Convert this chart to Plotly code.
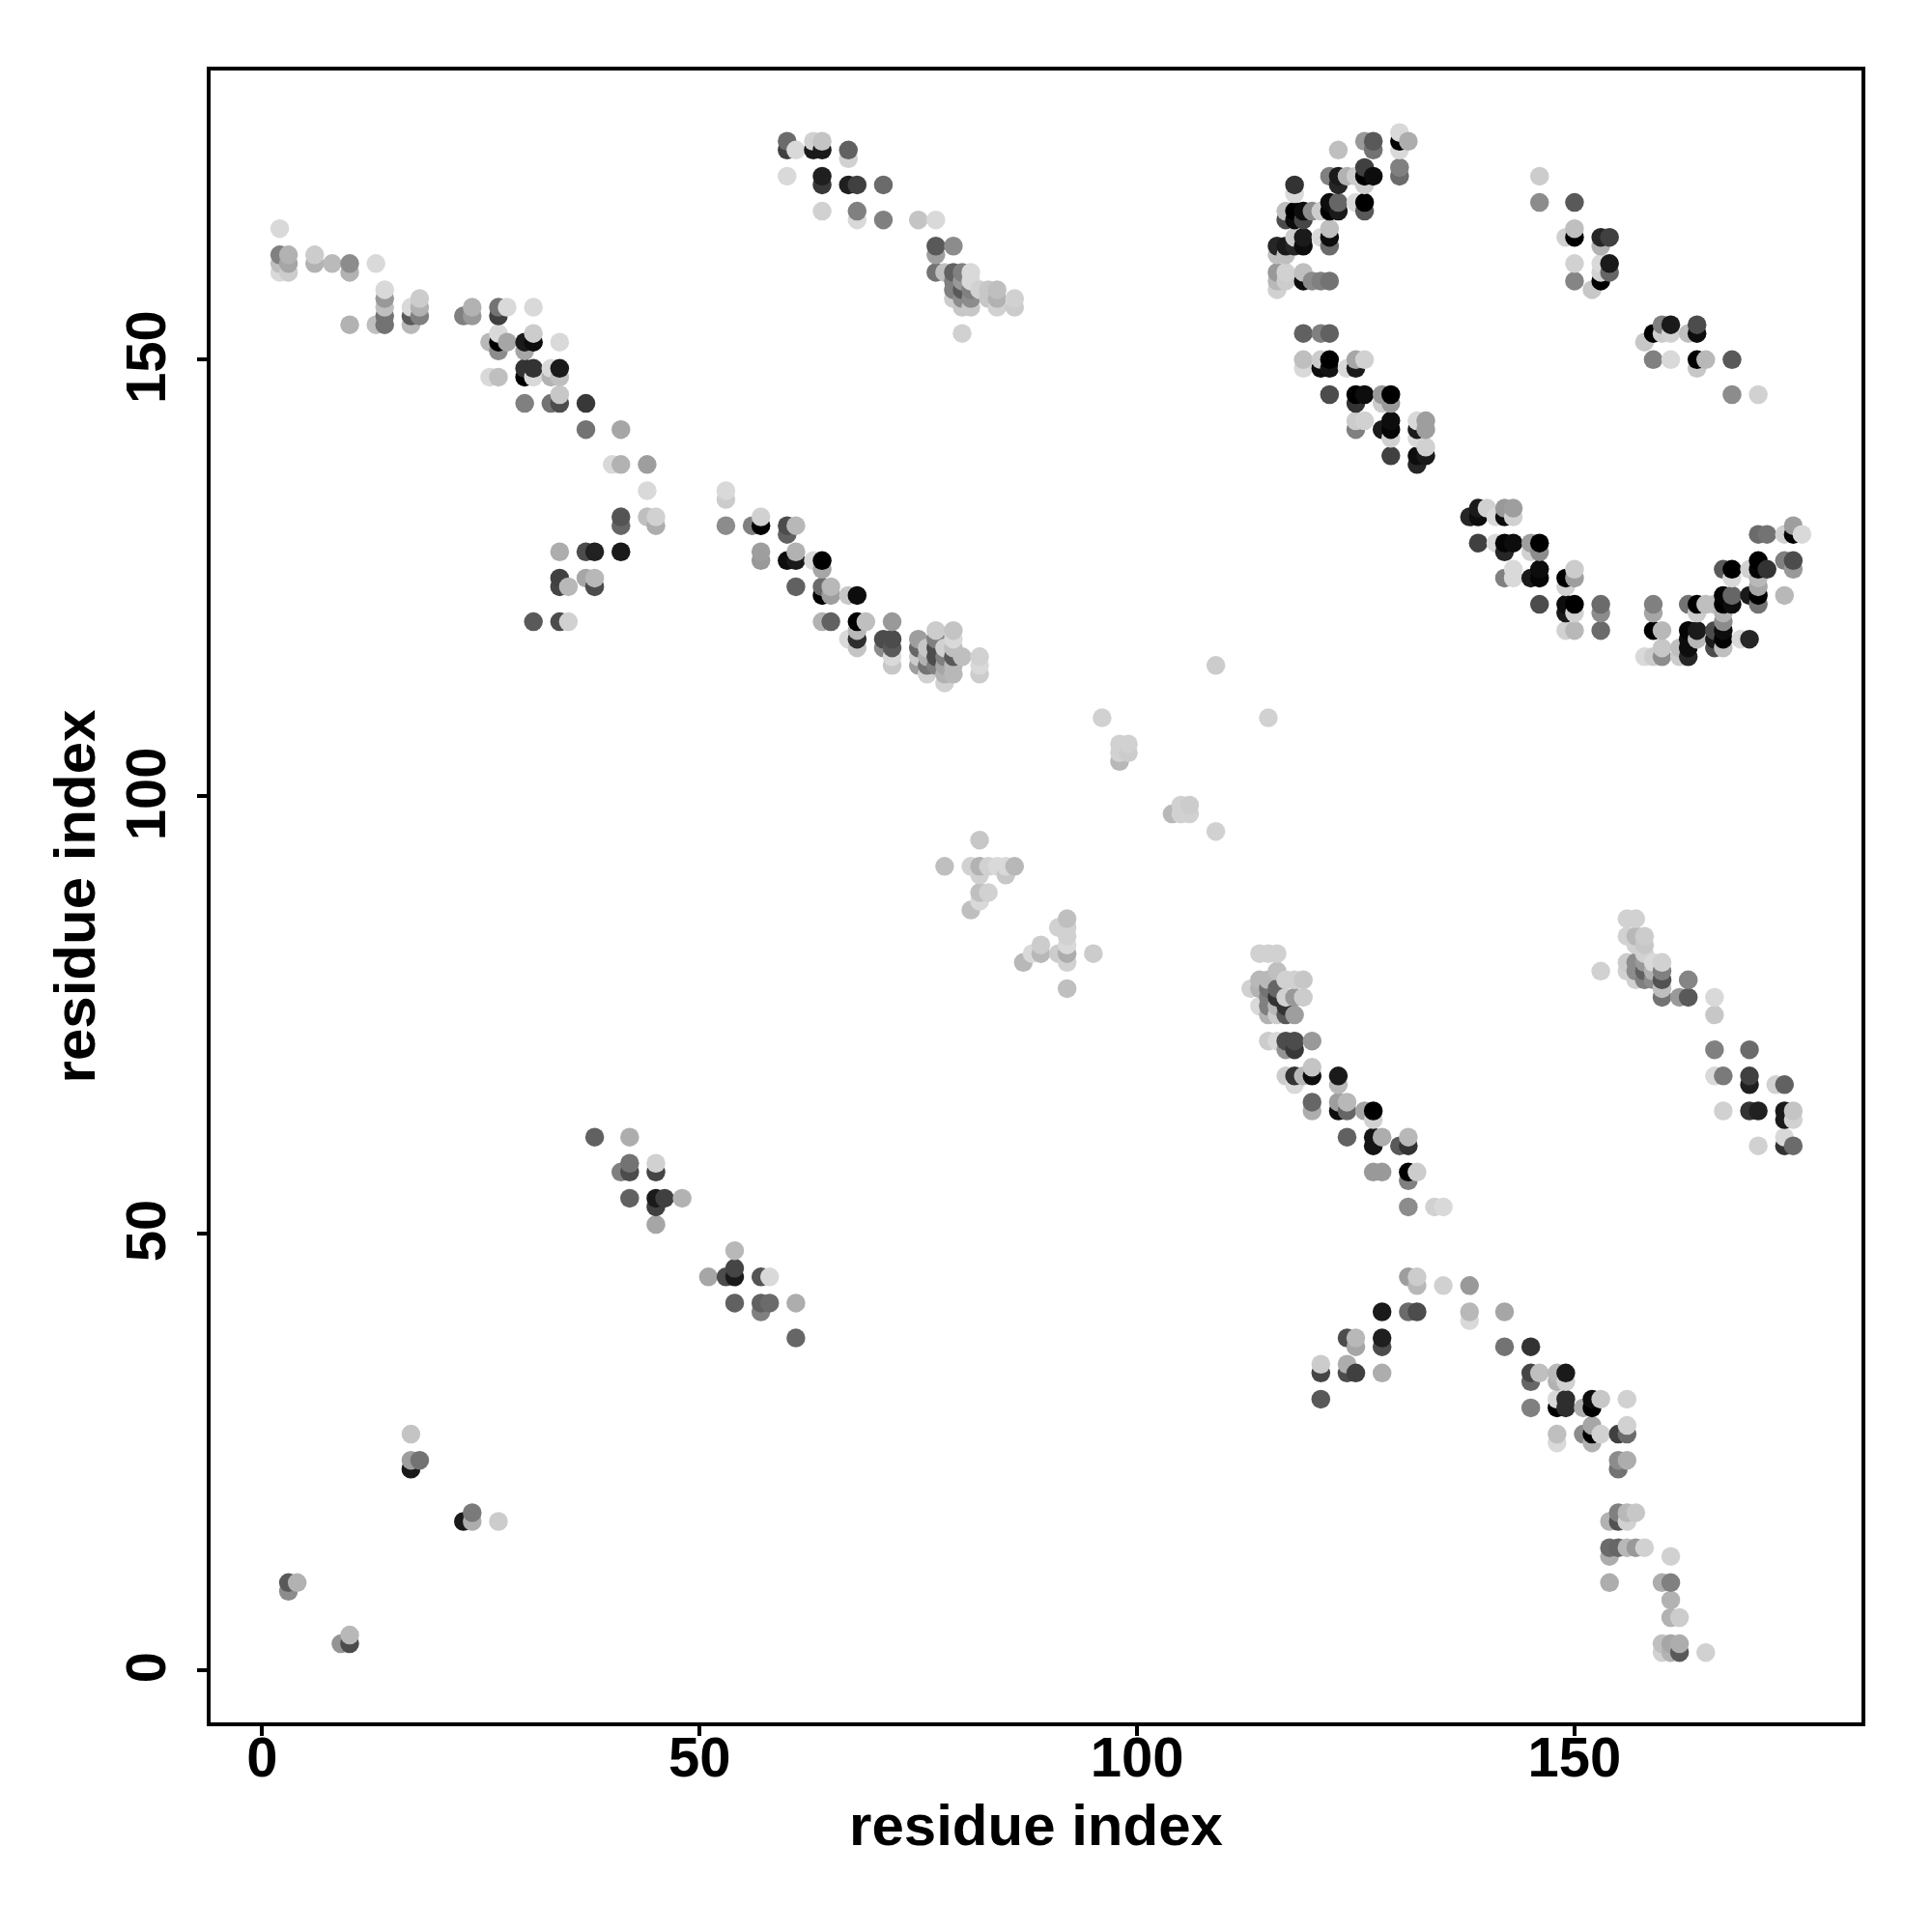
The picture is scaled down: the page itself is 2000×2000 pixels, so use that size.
import plotly.graph_objects as go

# (residue on x, residue on y, grey shade 0=black .. 1=white), read by cluster
nterm_band = [(2,165,.85),(2,162,.5),(3,162,.7),(2,161,.75),(3,161,.65),(2,160,.85),(3,160,.8),(6,162,.8),(6,161,.7),(8,161,.73),(10,161,.55),(10,160,.7),(13,161,.85),
 (14,158,.85),(14,157,.6),(14,156,.75),(14,155,.45),(14,154,.45),(13,154,.75),(10,154,.7),(17,155,.35),(17,154,.72),(17,156,.85),(18,157,.8),(18,156,.7),(18,155,.5),
 (23,155,.5),(24,155,.6),(24,156,.7),(27,156,.45),(28,156,.85),(27,155,.25),(31,156,.85),(27,153,.85),(26,152,.72),(27,152,0),(28,152,.65),(27,151,.55),
 (30,152,.1),(31,152,.05),(31,153,.8),(30,151,.65),(34,152,.85),(30,149,.2),(31,149,.2),(30,148,0),(31,148,.85),(33,149,.85),(34,149,.1),(33,148,.7),(34,148,.75),(26,148,.85),(27,148,.75),
 (30,145,.5),(33,145,.45),(34,145,.3),(34,146,.78),(37,145,.22),(37,142,.45),(41,142,.65),(40,138,.85),(41,138,.7),(44,138,.62),(44,135,.85),(44,132,.75),(45,132,.82),(45,131,.68),
 (41,132,.33),(41,131,.4),(34,128,.68),(37,128,.3),(38,128,.13),(41,128,.1),(34,125,.25),(34,124,.27),(35,124,.72),(37,125,.65),(38,125,.72),(38,124,.3),(31,120,.35),(34,120,.3),(35,120,.82)]

mid_band = [(53,135,.85),(53,134,.8),(53,131,.55),(56,131,.5),(57,131,0),(57,132,.82),(57,128,.62),(57,127,.6),(60,131,.3),(60,130,.38),(61,131,.72),
 (60,127,.05),(61,127,.1),(61,128,.7),(63,127,.85),(64,127,0),(64,126,.65),(61,124,.38),(64,124,.42),(65,124,.72),(64,123,0),(65,123,.62),(67,123,.78),(68,123,.05),
 (64,120,.7),(65,120,.38),(68,120,0),(69,120,.75),(68,119,.72),(67,118,.85),(68,118,.18),(68,117,.77),(72,120,.6),(71,118,.3),(72,118,.3),(71,117,.55),(72,117,.35),(72,116,.85),(72,115,.78),
 (75,118,.62),(75,117,.4),(75,116,.8),(75,115,.62),(76,117,.78),(76,116,.7),(76,115,.45),(76,114,.82),(77,119,.8),(77,118,.5),(77,117,.3),(77,116,.3),(77,115,.5),
 (78,117,.82),(78,116,.5),(78,115,.65),(78,114,.7),(78,113,.82),(79,119,.77),(79,118,.85),(79,117,.75),(79,116,.35),(79,115,.72),(79,114,.72),(80,116,.75),(82,116,.82),(82,115,.85),(82,114,.8)]

top_mid = [(60,175,.42),(60,174,.25),(61,174,.85),(63,175,.82),(64,175,.77),(63,174,.1),(64,174,.1),(67,174,.38),(67,173,.82),(60,171,.85),(64,171,.12),(64,170,.22),(67,170,.12),(68,170,.25),(71,170,.42),
 (64,167,.82),(68,167,.5),(68,166,.85),(71,166,.5),(75,166,.77),(77,166,.85),(77,163,.35),(79,163,.55),(77,162,.62),(77,160,.45),(78,160,.75),(79,160,.38),(80,160,.5),(81,160,.85),
 (79,159,.5),(80,159,.6),(81,159,.85),(79,158,.5),(80,158,.35),(81,158,.5),(82,158,.82),(83,158,.78),(84,158,.75),(79,157,.8),(80,157,.55),(81,157,.55),(83,157,.78),(84,157,.7),(86,157,.82),
 (80,156,.78),(81,156,.78),(84,156,.82),(86,156,.8),(80,153,.82)]

top_right_a = [(130,176,.85),(130,175,0),(131,175,.68),(130,174,.85),(126,175,.6),(127,175,.35),(127,174,.45),(123,174,.75),(126,172,.25),(130,172,.5),(130,171,.42),
 (122,171,.5),(123,171,.1),(123,170,.15),(124,171,.7),(125,171,.8),(126,171,0),(127,171,.05),(126,170,.8),(118,170,.2),(118,169,.85),(122,168,.05),(123,168,.4),(122,167,0),(123,167,.1),(125,168,.85),(126,168,0),(126,167,.35),
 (117,167,.75),(118,167,0),(119,167,.05),(120,167,.55),(121,167,.8),(117,166,.3),(118,166,.05),(119,166,.28),(122,165,.75),(122,164,.05),(121,164,.85),(122,163,.42),(119,164,.1),(118,164,.8),(119,163,.05),(117,163,.1),(116,163,.15),(118,163,.15),
 (116,162,.75),(117,162,.75),(116,160,.6),(117,160,.82),(119,160,.75),(116,159,.72),(117,159,.8),(119,159,.05),(120,159,.55),(121,159,.5),(122,159,.45),(116,158,.82)]

top_right_b = [(146,171,.8),(146,168,.55),(150,168,.35),(150,165,.75),(149,164,.82),(150,164,0),(153,164,.15),(154,164,.25),(153,163,.7),(150,161,.82),(153,161,.85),(154,161,.1),(154,160,.4),(153,160,.82),(150,159,.52),(153,159,0),(152,158,.78),
 (161,154,.1),(160,154,.5),(159,153,0),(160,153,.8),(161,153,.82),(158,152,.78),(164,154,.3),(164,153,.05),(163,153,.75),(159,150,.5),(161,150,.85),(164,150,0),(165,150,.72),(164,149,.78),(168,150,.35),(168,146,.55),(171,146,.82)]

right_middle = [(119,153,.38),(121,153,.5),(122,153,.38),(119,150,.75),(119,149,.85),(121,150,.8),(122,150,0),(121,149,.05),(122,149,.08),(124,149,.85),(125,150,.65),(126,150,.82),(125,149,.1),
 (122,146,.3),(125,146,0),(126,146,.05),(125,145,.2),(128,146,.6),(129,146,0),(128,145,.8),(129,145,.6),(125,143,.8),(126,143,.82),(125,142,.5),(128,142,.1),(129,143,.05),(129,142,.02),(129,141,.82),
 (132,143,.85),(133,143,.62),(132,142,.1),(133,142,.62),(132,141,.85),(133,140,.82),(129,139,.25),(132,139,.05),(133,139,.1),(132,138,.15)]

arc_left = [(139,133,.1),(140,133,.82),(142,133,.6),(143,133,.62),(138,132,.15),(139,132,.05),(141,132,.85),(142,132,.05),(143,132,.82),(139,129,.25),(141,129,.85),(142,129,.02),(143,129,.05),(142,128,.15),(145,129,.62),(146,129,0),(145,128,.82),(146,128,.55),
 (143,126,.85),(143,125,.85),(142,125,.5),(145,125,.1),(146,126,.05),(146,125,.02),(150,126,.8),(150,125,.62),(149,125,0),(149,124,.82),(146,122,.3),(149,122,.05),(150,122,0),(149,121,.1),(150,121,.82),(153,122,.42),(153,121,.55),(149,119,.82),(150,119,.72),(153,119,.42)]

arc_right = [(159,122,.5),(159,121,.65),(159,119,0),(160,119,.72),(158,116,.85),(159,116,.8),(160,117,.78),(160,116,.55),(162,117,.75),(162,116,.8),(163,119,.02),(164,119,.1),(163,118,.05),(164,118,.72),(163,117,.05),(163,116,.15),
 (163,122,.45),(164,122,0),(165,122,.75),(164,121,.8),(167,123,.02),(168,123,.4),(167,122,0),(168,122,.05),(166,122,.75),(166,119,.3),(167,119,.05),(166,118,.1),(167,118,0),(166,117,.3),(167,117,.75),(167,121,.7),(167,120,.55),
 (169,118,.85),(170,118,.15),(170,123,.1),(171,123,0),(171,124,.65),(171,122,.45),(167,126,.35),(168,126,0),(168,125,.85),(170,126,.82),(171,127,0),(171,126,.02),(172,126,.2),(171,125,.72),(174,123,.72),
 (171,130,.42),(172,130,.45),(174,130,.82),(175,131,.62),(175,130,0),(176,130,.85),(174,127,.5),(175,127,.3),(175,126,.6)]

diag_lower = [(114,82,.82),(115,82,.82),(116,82,.82),(116,80,.75),(114,79,.72),(115,79,.72),(113,78,.82),(114,78,.7),(115,78,.45),(116,78,.4),(117,79,.82),(118,79,.82),(119,79,.78),
 (115,77,.5),(116,77,.2),(117,77,.82),(118,77,.6),(119,77,.8),(114,76,.85),(115,76,.5),(116,76,.72),(117,76,.2),(115,75,.7),(116,75,.8),(117,75,.35),(118,75,.62),
 (115,72,.8),(116,72,.85),(117,72,.3),(118,72,.3),(120,72,.6),(117,71,.58),(118,71,.22),(117,68,.8),(118,68,.2),(119,68,.72),(120,68,.05),(120,69,.77),(118,67,.85),(123,68,.1),(123,67,.72),
 (120,65,.4),(120,64,.68),(123,65,.62),(124,65,.72),(123,64,.05),(124,64,.4),(126,64,.65),(127,64,0),(127,63,.82),(124,61,.38),(127,61,.08),(128,61,.68),(127,60,.08),(130,60,.35),(131,61,.72),(131,60,.2),
 (127,57,.6),(128,57,.6),(131,57,0),(132,57,.8),(131,56,.5),(131,53,.55),(134,53,.82),(135,53,.85)]

diag_right = [(156,86,.82),(157,86,.82),(156,84,.82),(157,84,.72),(158,84,.8),(157,83,.82),(158,83,.78),(158,82,.82),(153,80,.82),(156,81,.8),(157,81,.55),(158,81,.6),(159,81,.85),(160,81,.82),
 (156,80,.82),(157,80,.55),(158,80,.38),(159,80,.7),(160,80,.5),(157,79,.82),(158,79,.5),(159,79,.55),(160,79,.32),(160,78,.75),(163,79,.52),(160,77,.45),(162,77,.6),(163,77,.35),(166,77,.85),(166,75,.78),
 (166,71,.5),(170,71,.42),(166,68,.85),(167,68,.48),(170,68,.25),(170,67,.12),(173,67,.82),(174,67,.38),(167,64,.82),(170,64,.2),(171,64,.13),(174,64,.1),(175,64,.77),(174,63,.1),(175,63,.82),(171,60,.82),(174,61,.85),(174,60,.2),(175,60,.42)]

low_arc_a = [(131,45,.62),(132,45,.8),(132,44,.72),(135,44,.82),(138,44,.6),(128,41,.1),(131,41,.42),(132,41,.3),(138,41,.72),(138,40,.85),(142,41,.65),(124,38,.3),(125,38,.72),(125,37,.65),(128,38,.12),(128,37,.3),(142,37,.45),(145,37,.2),
 (121,35,.8),(121,34,.27),(124,35,.68),(124,34,.3),(125,34,.25),(128,34,.68),(145,34,.27),(146,34,.75),(145,33,.4),(121,31,.35),(145,30,.5)]

low_arc_b = [(148,34,.72),(149,34,.1),(148,33,.7),(149,33,.82),(148,31,.85),(149,31,.18),(148,30,0),(149,30,.18),(151,30,.68),(152,31,.05),(153,31,.78),(152,30,0),(156,31,.82),(148,27,.75),(148,26,.85),
 (151,27,.55),(152,28,.65),(152,27,0),(153,27,.82),(152,26,.7),(155,27,.25),(156,27,.42),(156,28,.82),(155,24,.55),(156,24,.68),(155,23,.45),(155,18,.5),(156,18,.72),(157,18,.78),(154,17,.7),(155,17,.32),(156,17,.82),
 (154,14,.42),(155,14,.4),(156,14,.72),(157,14,.6),(158,14,.82),(154,13,.68),(161,13,.82),(154,10,.68),(160,10,.68),(161,10,.5),(161,8,.7),(161,6,.7),(162,6,.8),(160,3,.75),(161,3,.65),(162,3,.68),(160,2,.82),(161,2,.7),(162,2,.35),(165,2,.82)]

low_mid = [(38,61,.38),(42,61,.68),(41,57,.5),(42,58,.45),(42,57,.3),(45,58,.82),(45,57,.27),(42,54,.38),(45,54,.1),(46,54,.25),(48,54,.7),(45,53,.25),(45,51,.65),
 (54,48,.72),(51,45,.65),(53,45,.3),(54,46,.27),(54,45,.1),(57,45,.33),(58,45,.85),(54,42,.38),(57,42,.38),(58,42,.42),(61,42,.68),(57,41,.5),(61,38,.4)]

centre = [(109,115,.8),(96,109,.82),(115,109,.82),(98,106,.82),(99,106,.82),(98,105,.82),(99,105,.8),(98,104,.72),(104,98,.72),(105,99,.82),(106,99,.8),(105,98,.82),(106,98,.82),(109,96,.82),
 (82,95,.78),(78,92,.75),(81,92,.82),(82,92,.7),(83,92,.82),(84,92,.85),(85,92,.85),(86,92,.72),(82,91,.82),(85,91,.78),(82,89,.75),(83,89,.82),(82,88,.85),(81,87,.75),
 (92,86,.75),(91,85,.82),(92,85,.82),(92,84,.82),(89,83,.8),(88,82,.85),(89,82,.72),(91,82,.8),(92,83,.85),(92,82,.68),(95,82,.8),(87,81,.72),(92,81,.82),(92,78,.75)]

corner = [(17,27,.77),(17,24,.62),(18,24,.45),(17,23,.1),(24,18,.48),(23,17,.1),(24,17,.68),(27,17,.8),(3,10,.35),(4,10,.7),(3,9,.55),(9,3,.58),(10,3,.3),(10,4,.72)]

x_ticks = [0, 50, 100, 150]
y_ticks = [0, 50, 100, 150]
x_title = "residue index"
y_title = "residue index"

clusters = [nterm_band, mid_band, top_mid, top_right_a, top_right_b, right_middle, arc_left, arc_right,
            diag_lower, diag_right, low_arc_a, low_arc_b, low_mid, centre, corner]
points = sorted((p for c in clusters for p in c), key=lambda p: (p[0], p[1]))
xs = [p[0] for p in points]
ys = [p[1] for p in points]
colors = ["rgb({0},{0},{0})".format(round(p[2] * 255)) for p in points]

FONT = "Liberation Sans"
tickfont = dict(family=FONT, size=58, color="black", weight="bold")
titlefont = dict(family=FONT, size=60, color="black", weight="bold")

fig = go.Figure(go.Scatter(x=xs, y=ys, mode="markers",
                           marker=dict(size=19.5, color=colors, line=dict(width=0)),
                           showlegend=False))
axis = dict(showgrid=False, zeroline=False, showline=True, mirror=True, linecolor="black", linewidth=4,
            ticks="outside", ticklen=10, tickwidth=3.5, tickcolor="black", tickfont=tickfont)
fig.update_xaxes(**axis, range=[-5.9, 182.8], tickvals=x_ticks, ticklabelstandoff=-28,
                 title=dict(text=x_title, font=titlefont, standoff=19))
fig.update_yaxes(**axis, range=[-6.0, 183.1], tickvals=y_ticks, tickangle=-90, ticklabelstandoff=10,
                 ticklabelshift=6, title=dict(text=y_title, font=titlefont, standoff=1))
fig.update_layout(width=2000, height=2000, autosize=False, paper_bgcolor="white", plot_bgcolor="white",
                  margin=dict(l=210, r=81, t=65, b=225, autoexpand=False), font=dict(family=FONT))
fig.write_html("out.html")
